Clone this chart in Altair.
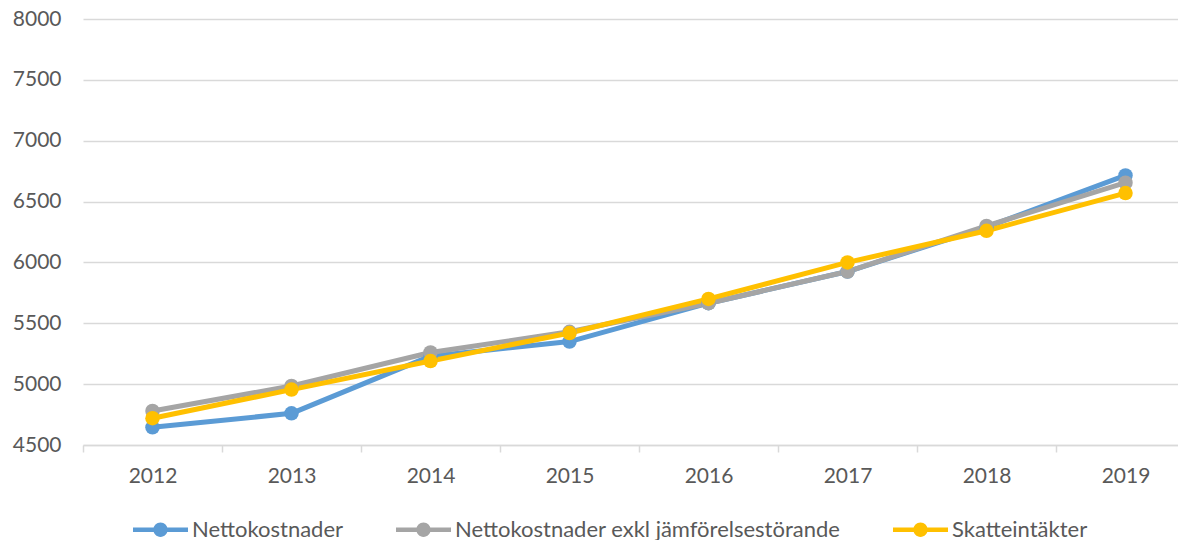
import altair as alt
import pandas as pd

years = ["2012", "2013", "2014", "2015", "2016", "2017", "2018", "2019"]
series_names = [
    "Nettokostnader",
    "Nettokostnader exkl jämförelsestörande",
    "Skatteintäkter",
]
netto = [4645, 4760, 5230, 5350, 5665, 5925, 6290, 6715]
netto_exkl = [4780, 4985, 5260, 5430, 5665, 5925, 6300, 6655]
skatt = [4720, 4955, 5190, 5420, 5700, 6000, 6260, 6570]
colors = ["#5B9BD5", "#A5A5A5", "#FFC000"]
y_ticks = [4500, 5000, 5500, 6000, 6500, 7000, 7500, 8000]

rows = []
for name, vals in zip(series_names, [netto, netto_exkl, skatt]):
    for yr, v in zip(years, vals):
        rows.append({"year": yr, "value": v, "series": name})
df = pd.DataFrame(rows)

FONT = "Lato"
TXT = "#595959"
GRID = "#D9D9D9"

legend_path = (
    "M-1,-0.085L1,-0.085L1,0.085L-1,0.085Z "
    "M0.26,0A0.26,0.26 0 1,1 -0.26,0A0.26,0.26 0 1,1 0.26,0Z"
)

legend = alt.Legend(
    title=None,
    orient="none",
    direction="horizontal",
    legendX=50,
    legendY=483,
    symbolType=legend_path,
    symbolSize=3025,
    symbolStrokeWidth=0,
    symbolOpacity=1,
    labelFont=FONT,
    labelFontSize=22,
    labelColor=TXT,
    labelOffset=4,
    columnPadding=52,
    padding=0,
    labelLimit=0,
)

x_enc = alt.X(
    "year:N",
    sort=years,
    title=None,
    scale=alt.Scale(type="band", paddingInner=0, paddingOuter=0, range=[0, 1112]),
    axis=alt.Axis(
        labelAngle=0,
        labelFont=FONT,
        labelFontSize=21,
        labelColor=TXT,
        labelPadding=13,
        domainColor=GRID,
        domainWidth=1.5,
        tickColor=GRID,
        tickWidth=1.5,
        tickSize=7,
        tickBand="extent",
        grid=False,
    ),
)
y_enc = alt.Y(
    "value:Q",
    title=None,
    scale=alt.Scale(domain=[4500, 8000], nice=False, zero=False),
    axis=alt.Axis(
        values=y_ticks,
        format="d",
        labelFont=FONT,
        labelFontSize=21,
        labelColor=TXT,
        labelPadding=22,
        domain=False,
        ticks=False,
        grid=True,
        gridColor=GRID,
        gridWidth=1.5,
    ),
)
color_scale = alt.Scale(domain=series_names, range=colors)
color_enc = alt.Color("series:N", scale=color_scale, legend=legend)

base = alt.Chart(df)
lines = base.mark_line(strokeWidth=5, strokeCap="round", strokeJoin="round").encode(
    x=x_enc, y=y_enc, color=color_enc
)
points = base.mark_point(filled=True, size=210, opacity=1).encode(
    x=x_enc, y=y_enc, color=color_enc
)

chart = (
    alt.layer(lines, points)
    .properties(
        width=1095,
        height=426,
        autosize=alt.AutoSizeParams(type="none"),
        padding={"left": 75, "top": 11, "right": 0, "bottom": 95},
        background="white",
    )
    .configure_view(stroke=None)
)

chart.save("out.html", embed_options={"renderer": "svg", "actions": False})
